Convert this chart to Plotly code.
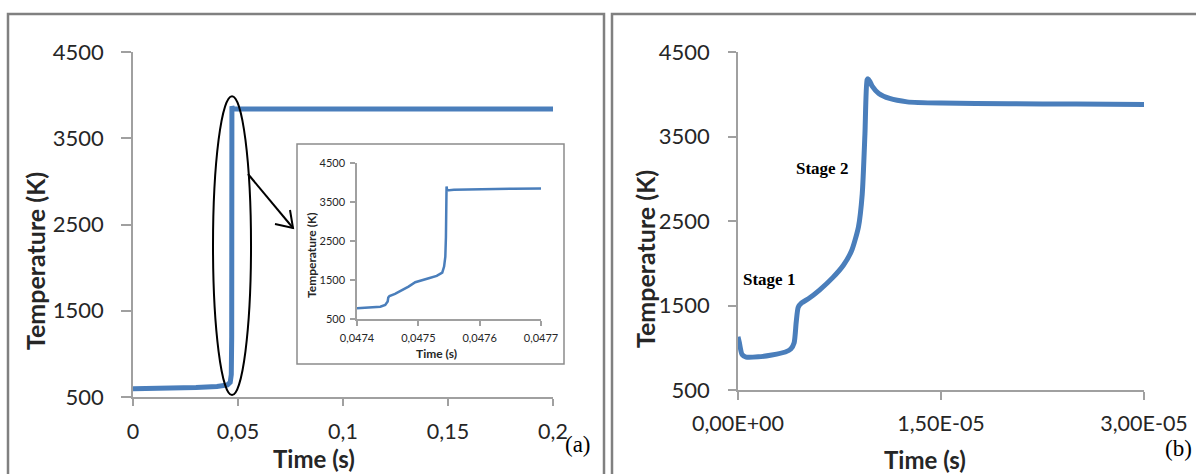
import plotly.graph_objects as go

W, H = 1196, 474

# ---------------- data ----------------
# (a) main panel: time (s) vs temperature (K)
t_a = [0.0, 0.01, 0.02, 0.03, 0.04, 0.045, 0.0463, 0.0468, 0.0470, 0.0471, 0.0472, 0.0476, 0.06, 0.10, 0.15, 0.20]
T_a = [595, 598, 603, 610, 622, 640, 670, 760, 1200, 3870, 3845, 3838, 3838, 3838, 3838, 3838]

# (a) inset: zoom on the ignition
t_in = [0.047400, 0.047420, 0.047438, 0.047446, 0.047450, 0.047451, 0.047453, 0.047462,
        0.047473, 0.047484, 0.047495, 0.047503, 0.047517, 0.047530, 0.047539, 0.047542,
        0.047544, 0.047545, 0.0475455, 0.047546, 0.047547, 0.047558, 0.047601, 0.047655, 0.047700]
T_in = [775, 790, 817, 860, 950, 1050, 1091, 1142, 1228, 1331, 1442, 1485, 1545, 1605, 1690,
        1845, 2100, 2600, 3300, 3900, 3797, 3815, 3832, 3840, 3849]

# (b) right panel: time (microseconds) vs temperature (K)
t_b_us = [0, 0.1, 0.3, 0.6, 1.5, 2.5, 3.5, 3.9, 4.15, 4.3, 4.45, 4.7, 5.2, 6.0, 7.0, 7.8,
          8.4, 8.9, 9.18, 9.38, 9.54, 9.62, 9.75, 9.9, 10.4, 11.2, 12.5, 15, 20, 25, 30]
T_b = [1130, 1060, 920, 890, 893, 915, 950, 985, 1060, 1300, 1480, 1530, 1580, 1680, 1830, 1980,
       2150, 2430, 2820, 3530, 4170, 4182, 4150, 4100, 4010, 3950, 3910, 3895, 3888, 3884, 3880]

ytick_vals = [500, 1500, 2500, 3500, 4500]
ytick_text = ["500", "1500", "2500", "3500", "4500"]
xa_vals = [0, 0.05, 0.1, 0.15, 0.2]
xa_text = ["0", "0,05", "0,1", "0,15", "0,2"]
xin_vals = [0.0474, 0.0475, 0.0476, 0.0477]
xin_text = ["0,0474", "0,0475", "0,0476", "0,0477"]
xb_vals = [0, 1.5e-5, 3.0e-5]
xb_text = ["0,00E+00", "1,50E-05", "3,00E-05"]

BLUE = "#4a7ebb"
AX = "#a0a0a0"
TXT = "#262626"
FONT = "Lato"


def px(x):
    return x / W


def py(y):
    return 1 - y / H


fig = go.Figure()
fig.add_trace(go.Scatter(x=t_a, y=T_a, mode="lines", line=dict(color=BLUE, width=5),
                         xaxis="x", yaxis="y", showlegend=False))
fig.add_trace(go.Scatter(x=t_in, y=T_in, mode="lines", line=dict(color=BLUE, width=2.5),
                         xaxis="x2", yaxis="y2", showlegend=False))
fig.add_trace(go.Scatter(x=[v * 1e-6 for v in t_b_us], y=T_b, mode="lines",
                         line=dict(color=BLUE, width=5, shape="spline", smoothing=0.6),
                         xaxis="x3", yaxis="y3", showlegend=False))


def xax(domain, rng, vals, text, size, tlen, standoff, anchor):
    return dict(domain=domain, range=rng, tickvals=vals, ticktext=text, showline=True,
                linecolor=AX, linewidth=1.5, ticks="outside", ticklen=tlen, tickcolor=AX,
                tickwidth=1.5, showgrid=False, zeroline=False, anchor=anchor, automargin=False,
                tickfont=dict(family=FONT, size=size, color=TXT), ticklabelstandoff=standoff)


def yax(domain, rng, size, tlen, standoff, anchor):
    return dict(domain=domain, range=rng, tickvals=ytick_vals, ticktext=ytick_text,
                showline=True, linecolor=AX, linewidth=1.5, ticks="outside", ticklen=tlen,
                tickcolor=AX, tickwidth=1.5, showgrid=False, zeroline=False, anchor=anchor,
                automargin=False,
                tickfont=dict(family=FONT, size=size, color=TXT), ticklabelstandoff=standoff)


fig.update_layout(
    template="none",
    width=W, height=H, margin=dict(l=0, r=0, t=0, b=0, autoexpand=False),
    paper_bgcolor="white", plot_bgcolor="rgba(0,0,0,0)",
    xaxis=xax([px(133), px(553)], [0, 0.2], xa_vals, xa_text, 21.5, 7, 7, "y"),
    yaxis=yax([py(397), py(52)], [500, 4500], 22, 10, 13, "x"),
    xaxis2=xax([px(357), px(541)], [0.0474, 0.0477], xin_vals, xin_text, 11, 5, 3, "y2"),
    yaxis2=yax([py(319), py(163)], [500, 4500], 11, 5, 3, "x2"),
    xaxis3=xax([px(738), px(1144)], [0, 3e-5], xb_vals, xb_text, 21.5, 8, 5, "y3"),
    yaxis3=yax([py(390), py(52)], [500, 4500], 22, 8, 14, "x3"),
)

shapes = [
    # panel frames
    dict(type="rect", xref="paper", yref="paper", x0=px(8), x1=px(604), y0=py(490), y1=py(14),
         line=dict(color="#808080", width=2.5)),
    dict(type="rect", xref="paper", yref="paper", x0=px(612), x1=px(1210), y0=py(490), y1=py(14),
         line=dict(color="#808080", width=2.5)),
    # inset frame
    dict(type="rect", xref="paper", yref="paper", x0=px(297), x1=px(564), y0=py(364), y1=py(144),
         line=dict(color="#8c8c8c", width=1.5)),
    # ellipse around the ignition
    dict(type="circle", xref="x", yref="y", x0=0.0381, x1=0.0562, y0=523, y1=3988,
         line=dict(color="black", width=2)),
    # arrow
    dict(type="path", xref="paper", yref="paper",
         path=f"M {px(248)} {py(174)} L {px(293)} {py(228)}", line=dict(color="black", width=2)),
    dict(type="path", xref="paper", yref="paper",
         path=f"M {px(275)} {py(224)} L {px(293)} {py(228)} L {px(290)} {py(210)}",
         line=dict(color="black", width=2)),
]
fig.update_layout(shapes=shapes)


def ann(text, x, y, size, family=FONT, angle=0, color=TXT):
    return dict(text=text, x=px(x), y=py(y), xref="paper", yref="paper", showarrow=False,
                xanchor="center", yanchor="middle", textangle=angle,
                font=dict(family=family, size=size, color=color))


annotations = [
    ann("<b>Temperature (K)</b>", 35, 261, 25, angle=-90),
    ann("<b>Time (s)</b>", 314, 458, 24),
    ann("<b>Temperature (K)</b>", 645, 259, 25, angle=-90),
    ann("<b>Time (s)</b>", 925, 459, 24),
    ann("<b>Temperature (K)</b>", 311, 255, 12, angle=-90),
    ann("<b>Time (s)</b>", 436, 353, 12),
    ann("<b>Stage 1</b>", 769, 279, 17, family="Liberation Serif", color="black"),
    ann("<b>Stage 2</b>", 822, 168, 17, family="Liberation Serif", color="black"),
    ann("(a)", 578, 444, 23, family="Liberation Serif", color="black"),
    ann("(b)", 1178, 448, 23, family="Liberation Serif", color="black"),
]
fig.update_layout(annotations=annotations)

fig.write_html("out.html")
